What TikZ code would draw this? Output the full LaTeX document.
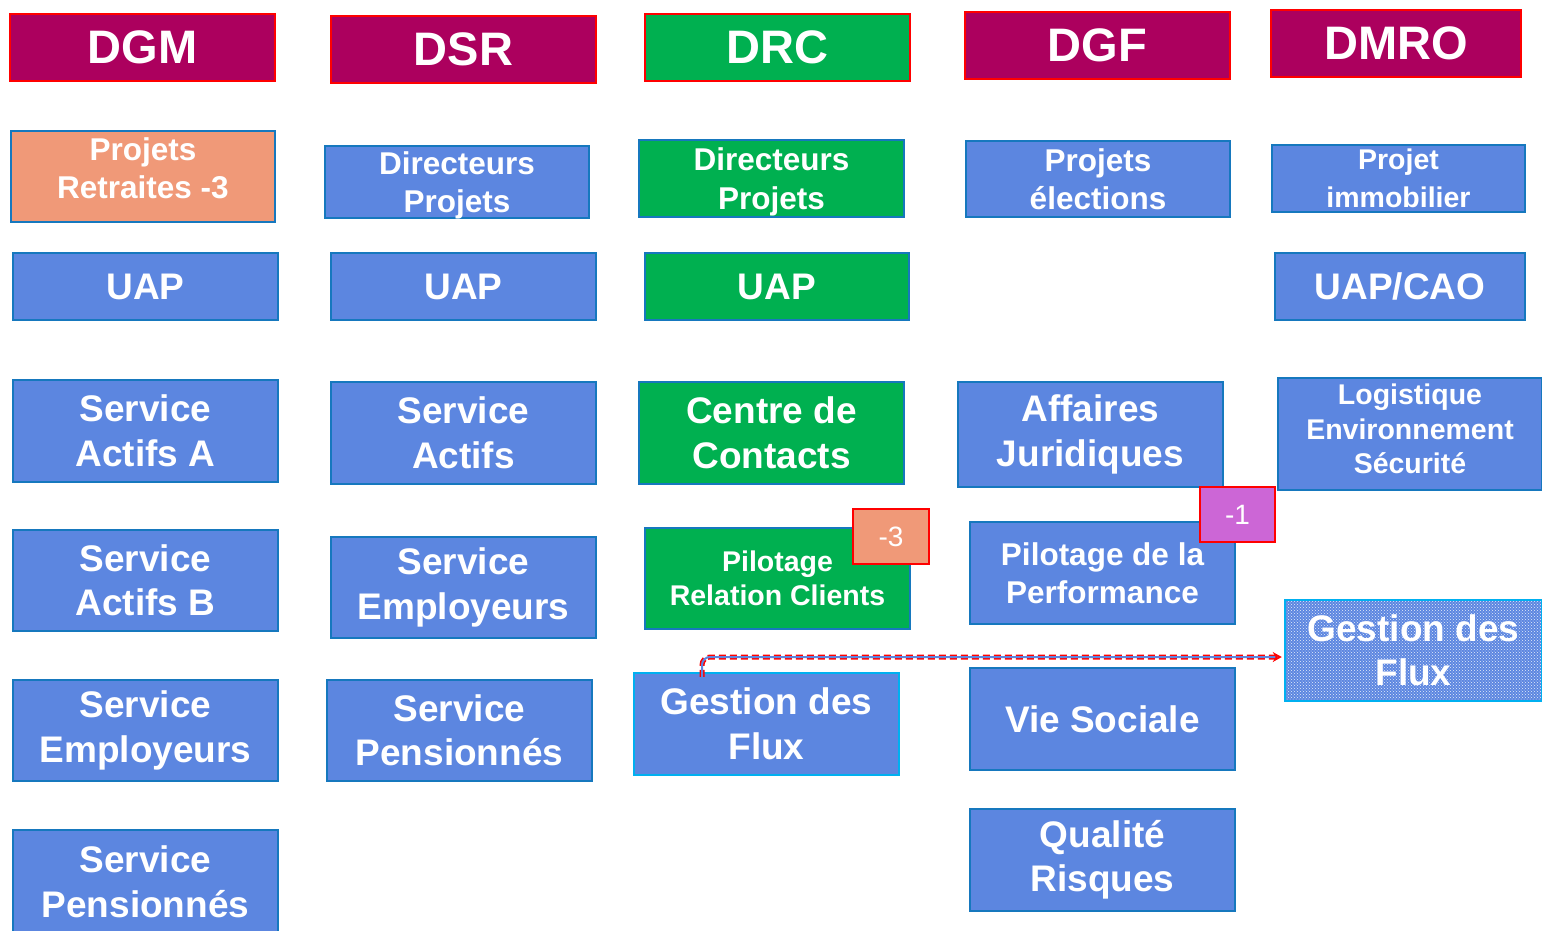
\documentclass[tikz,border=0pt]{standalone}
\usepackage{fontspec}
\setmainfont{Liberation Sans}
\usetikzlibrary{patterns,arrows.meta}
\definecolor{magbox}{RGB}{172,0,94}
\definecolor{redline}{RGB}{255,0,0}
\definecolor{greenbox}{RGB}{0,176,80}
\definecolor{bluebox}{RGB}{92,134,224}
\definecolor{blueline}{RGB}{22,120,190}
\definecolor{cyanline}{RGB}{0,176,240}
\definecolor{orangebox}{RGB}{240,153,120}
\definecolor{purplebox}{RGB}{204,102,214}
\newcommand\fs[2]{\fontsize{#1}{#2}\selectfont}
\tikzset{
  orgbox/.style={draw=blueline, line width=2.5pt, fill=bluebox, text=white,
    font=\bfseries, align=center, inner sep=0pt},
  headbox/.style={orgbox, draw=redline, fill=magbox, font=\bfseries\fs{47}{56}},
  greenbox/.style={orgbox, fill=greenbox},
  flowbox/.style={orgbox, draw=cyanline},
  badge/.style={orgbox, draw=redline, line width=1.8pt, font=\fs{28}{34}},
  big/.style={font=\bfseries\fs{37}{44.5}},
  mid/.style={font=\bfseries\fs{31.5}{38.5}},
  small/.style={font=\bfseries\fs{28.5}{34.5}}
}
\begin{document}
\begin{tikzpicture}[x=1pt,y=-1pt]
\useasboundingbox (0,0) rectangle (1542,930);
% header row
\node[headbox, minimum width=265pt, minimum height=67pt] (dgm) at (142.5,47.5) {DGM};
\node[headbox, minimum width=265pt, minimum height=67pt] (dsr) at (463.5,49.5) {DSR};
\node[headbox, fill=greenbox, minimum width=265pt, minimum height=67pt] (drc) at (777.5,47.5) {DRC};
\node[headbox, minimum width=265pt, minimum height=67pt] (dgf) at (1097.5,45.5) {DGF};
\node[headbox, minimum width=250pt, minimum height=67pt] (dmro) at (1396,43.5) {DMRO};
% row 2
\node[orgbox, mid, fill=orangebox, minimum width=264pt, minimum height=91pt, text depth=17pt] (ppr) at (143,176.5) {Projets\\Retraites -3};
\node[orgbox, mid, minimum width=264pt, minimum height=72pt, text depth=0pt] (dsrdp) at (457,182) {Directeurs\\Projets};
\node[greenbox, mid, minimum width=265pt, minimum height=77pt, text depth=0pt] (drcdp) at (771.5,178.5) {Directeurs\\Projets};
\node[orgbox, mid, minimum width=264pt, minimum height=76pt] (pel) at (1098,179) {Projets\\élections};
\node[orgbox, font=\bfseries\fs{28.5}{38}, minimum width=253pt, minimum height=67pt] (pim) at (1398.5,178.5) {Projet\\immobilier};
% row 3
\node[orgbox, big, minimum width=265pt, minimum height=67pt] (uap1) at (145.5,286.5) {UAP};
\node[orgbox, big, minimum width=265pt, minimum height=67pt] (uap2) at (463.5,286.5) {UAP};
\node[greenbox, big, minimum width=264pt, minimum height=67pt] (uap3) at (777,286.5) {UAP};
\node[orgbox, big, minimum width=250pt, minimum height=67pt] (uapcao) at (1400,286.5) {UAP/CAO};
% row 4
\node[orgbox, big, minimum width=265pt, minimum height=102pt] (saa) at (145.5,431) {Service\\Actifs A};
\node[orgbox, big, minimum width=265pt, minimum height=102pt] (sa) at (463.5,433) {Service\\Actifs};
\node[greenbox, big, minimum width=265pt, minimum height=102pt] (cdc) at (771.5,433) {Centre de\\Contacts};
\node[orgbox, big, minimum width=265pt, minimum height=105pt] (aj) at (1090.5,434.5) {Affaires\\Juridiques};
\node[orgbox, small, minimum width=264pt, minimum height=112pt, text depth=10pt] (les) at (1410,434) {Logistique\\Environnement\\Sécurité};
% row 5
\node[orgbox, big, minimum width=265pt, minimum height=101pt] (sab) at (145.5,580.5) {Service\\Actifs B};
\node[orgbox, big, minimum width=265pt, minimum height=101pt] (se2) at (463.5,587.5) {Service\\Employeurs};
\node[greenbox, small, minimum width=265pt, minimum height=101pt] (prc) at (777.5,578.5) {Pilotage\\Relation Clients};
\node[badge, fill=orangebox, minimum width=76pt, minimum height=55pt] (m3) at (891,536.5) {-3};
\node[orgbox, mid, minimum width=265pt, minimum height=102pt] (pdp) at (1102.5,573) {Pilotage de la\\Performance};
\node[badge, fill=purplebox, minimum width=75pt, minimum height=55pt] (m1) at (1237.5,514.5) {-1};
% row 6
\node[orgbox, big, minimum width=265pt, minimum height=101pt] (se1) at (145.5,730.5) {Service\\Employeurs};
\node[orgbox, big, minimum width=265pt, minimum height=101pt] (sp2) at (459.5,730.5) {Service\\Pensionnés};
\node[flowbox, big, minimum width=265pt, minimum height=102pt] (gdf) at (766.5,724) {Gestion des\\Flux};
\node[orgbox, big, minimum width=265pt, minimum height=102pt] (vs) at (1102.5,719) {Vie Sociale};
\fill[bluebox] (1285,600) rectangle (1542,701);
\node[flowbox, big, fill=none, pattern=crosshatch dots, pattern color=white!85!bluebox,
      minimum width=257pt, minimum height=101pt] (gdf2) at (1413.5,650.5) {Gestion des\\Flux};
% row 7
\node[orgbox, big, minimum width=265pt, minimum height=104pt] (sp1) at (145.5,882) {Service\\Pensionnés};
\node[orgbox, big, minimum width=265pt, minimum height=102pt] (qr) at (1102.5,860) {Qualité\\Risques};
% connector
\coordinate (cs) at ([shift={(-64.5,5)}]gdf.north);
\coordinate (ce) at ([shift={(-2,6.5)}]gdf2.west);
\draw[redline, dash pattern=on 7pt off 4pt, line width=5pt, rounded corners=8pt] (cs) |- ([xshift=-6pt]ce);
\draw[bluebox, line width=2pt, rounded corners=8pt, -{Stealth[length=9pt,width=10pt,fill=bluebox,color=redline]}] (cs) |- (ce);
\end{tikzpicture}
\end{document}
